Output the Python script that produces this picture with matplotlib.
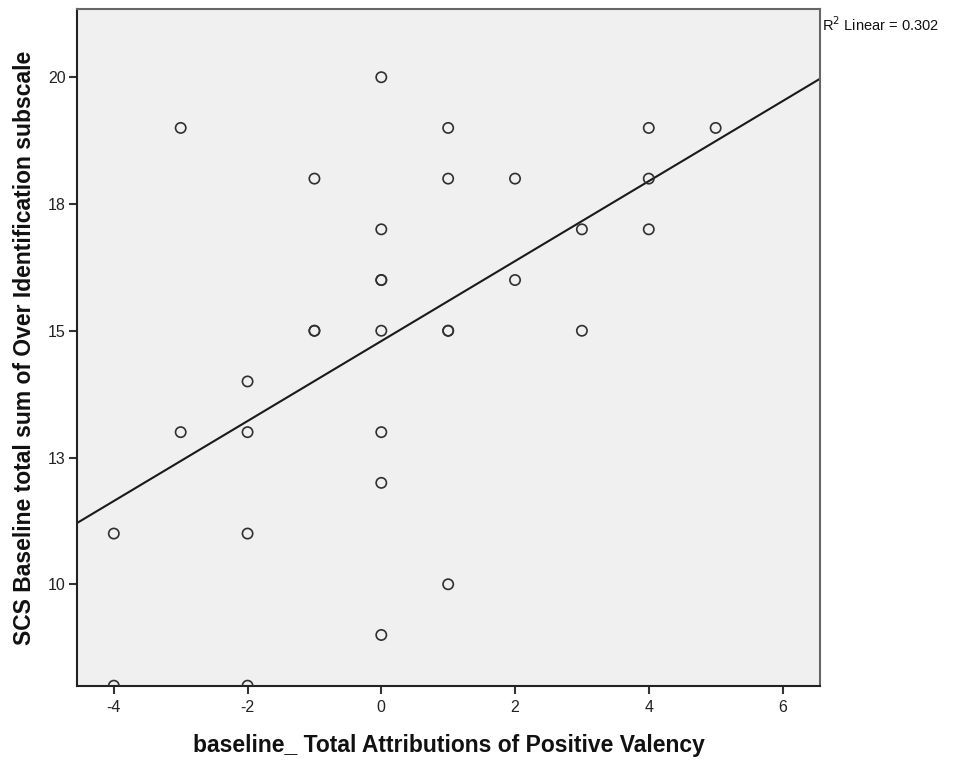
import numpy as np
import matplotlib
matplotlib.use("Agg")
import matplotlib.pyplot as plt

plt.rcParams['font.family'] = ['Liberation Sans', 'DejaVu Sans']

# Data (duplicates included where markers appear bolder)
x_vals = [-4, -4, -3, -3, -2, -2, -2, -2, -1, -1, -1,
          0, 0, 0, 0, 0, 0, 0, 0, 1, 1, 1, 1, 1,
          2, 2, 3, 3, 4, 4, 4, 5]
y_vals = [11, 8, 19, 13, 14, 13, 11, 8, 18, 15, 15,
          20, 17, 16, 16, 15, 13, 12, 9, 19, 18, 15, 15, 10,
          18, 16, 17, 15, 19, 18, 17, 19]
x_ticks = [-4, -2, 0, 2, 4, 6]
y_ticks = [10, 12.5, 15, 17.5, 20]
y_tick_labels = ["10", "13", "15", "18", "20"]
r2_text = "R$^2$ Linear = 0.302"

fig = plt.figure(figsize=(9.57, 7.6), dpi=100)
ax = fig.add_axes([0.0805, 0.0978, 0.7763, 0.89])
ax.set_facecolor('#F0F0F0')

ax.scatter(x_vals, y_vals, s=55, facecolors='none', edgecolors='#303030', linewidths=1.2, zorder=3)

xlim = (-4.55, 6.56)
ylim = (8.0, 21.34)
slope, intercept = np.polyfit(x_vals, y_vals, 1)
xl = np.array(xlim)
ax.plot(xl, slope * xl + intercept, color='#1a1a1a', linewidth=1.5, zorder=2)

ax.set_xlim(*xlim)
ax.set_ylim(*ylim)
ax.set_xticks(x_ticks)
ax.set_xticklabels([str(t) for t in x_ticks])
ax.set_yticks(y_ticks)
ax.set_yticklabels(y_tick_labels)
ax.tick_params(axis='both', direction='out', length=6, width=1.5, color='#333333',
               labelsize=11.5, labelcolor='#222222', pad=2)
ax.tick_params(axis='x', pad=4)
ax.tick_params(top=False, right=False)
for side in ['left', 'bottom']:
    ax.spines[side].set_color('#222222')
    ax.spines[side].set_linewidth(1.5)
for side in ['top', 'right']:
    ax.spines[side].set_color('#666666')
    ax.spines[side].set_linewidth(1.5)

ax.set_xlabel("baseline_ Total Attributions of Positive Valency", fontsize=16.5,
              fontweight='bold', color='#111111', labelpad=14)
ax.set_ylabel("SCS Baseline total sum of Over Identification subscale", fontsize=16.5,
              fontweight='bold', color='#111111', labelpad=9)

fig.text(0.8585, 0.967, r2_text, fontsize=10.5, color='#111111', ha='left', va='center')

fig.savefig("out.png", dpi=100)
